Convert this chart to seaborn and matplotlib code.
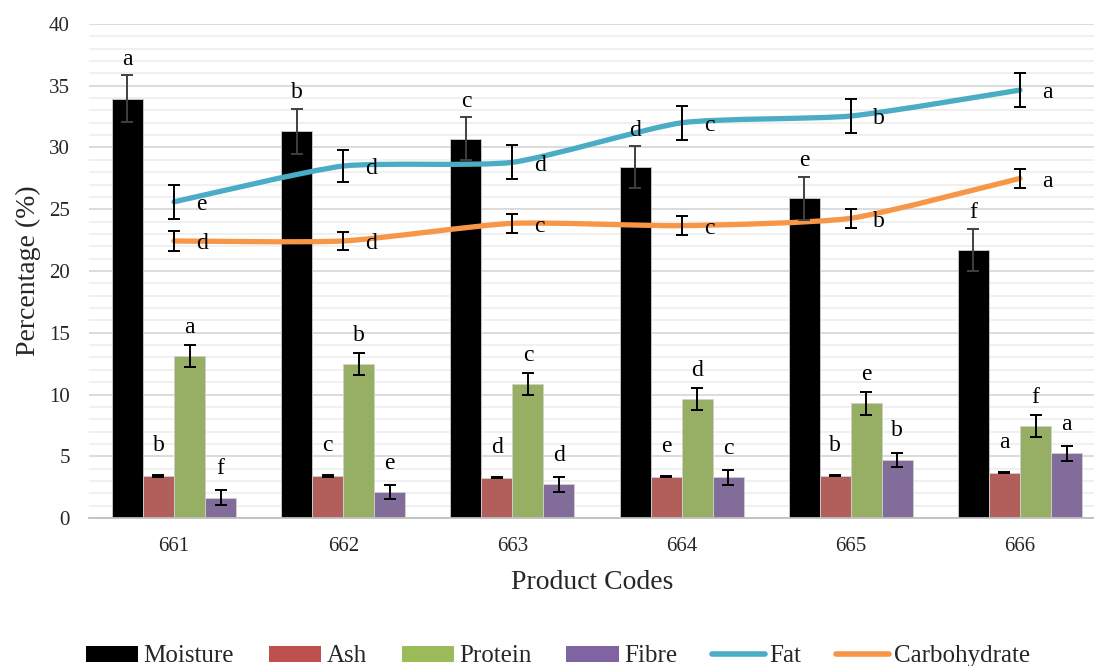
import numpy as np
import pandas as pd
import matplotlib
matplotlib.use("Agg")
import matplotlib.pyplot as plt
from matplotlib.path import Path
from matplotlib.patches import PathPatch, Patch
from matplotlib.lines import Line2D
from matplotlib.ticker import MultipleLocator
import seaborn as sns

# ---- data -------------------------------------------------------------
codes = ["661", "662", "663", "664", "665", "666"]

moisture = [33.95, 31.3, 30.7, 28.4, 25.9, 21.7]
moisture_err = [1.9, 1.85, 1.75, 1.7, 1.75, 1.7]
moisture_sig = ["a", "b", "c", "d", "e", "f"]

ash = [3.40, 3.40, 3.26, 3.34, 3.43, 3.67]
ash_err = [0.05, 0.05, 0.05, 0.05, 0.05, 0.05]
ash_sig = ["b", "c", "d", "e", "b", "a"]

protein = [13.1, 12.47, 10.82, 9.63, 9.28, 7.45]
protein_err = [0.9, 0.9, 0.9, 0.9, 0.9, 0.87]
protein_sig = ["a", "b", "c", "d", "e", "f"]

fibre = [1.65, 2.1, 2.73, 3.3, 4.7, 5.24]
fibre_err = [0.6, 0.6, 0.6, 0.6, 0.6, 0.6]
fibre_sig = ["f", "e", "d", "c", "b", "a"]

fat = [25.6, 28.5, 28.8, 32.0, 32.55, 34.65]
fat_err = [1.35, 1.3, 1.37, 1.38, 1.35, 1.35]
fat_sig = ["e", "d", "d", "c", "b", "a"]

carb = [22.43, 22.43, 23.86, 23.67, 24.27, 27.5]
carb_err = [0.78, 0.75, 0.77, 0.75, 0.75, 0.78]
carb_sig = ["d", "d", "c", "c", "b", "a"]

bar_names = ["Moisture", "Ash", "Protein", "Fibre"]
bar_colors = ["#000000", "#C0504D", "#9BBB59", "#8064A2"]
line_names = ["Fat", "Carbohydrate"]
line_colors = ["#4BACC6", "#F79646"]

bar_values = [moisture, ash, protein, fibre]
bar_errors = [moisture_err, ash_err, protein_err, fibre_err]
bar_sigs = [moisture_sig, ash_sig, protein_sig, fibre_sig]
line_values = [fat, carb]
line_errors = [fat_err, carb_err]
line_sigs = [fat_sig, carb_sig]

# ---- style ------------------------------------------------------------
sns.set_style("white")
plt.rcParams["font.family"] = ["Liberation Serif", "DejaVu Serif"]

fig = plt.figure(figsize=(10.94, 6.66), dpi=100)
ax = fig.add_axes([89.4 / 1094, (666 - 518) / 666, (1094 - 89.4) / 1094, (518 - 24) / 666])

df = pd.DataFrame({
    "code": np.repeat(codes, len(bar_names)),
    "component": bar_names * len(codes),
    "value": [bar_values[j][i] for i in range(len(codes)) for j in range(len(bar_names))],
})

group_width = 0.733
sns.barplot(data=df, x="code", y="value", hue="component", order=codes,
            hue_order=bar_names, palette=bar_colors, width=group_width,
            gap=0, errorbar=None, edgecolor="#D0D0D0", linewidth=0.6,
            legend=False, ax=ax, zorder=2)

n = len(bar_names)
bw = group_width / n
xs = np.arange(len(codes))

# error bars and significance letters on the bars
letter_gap = [4, 14, 5, 8]
for j in range(n):
    xpos = xs + (j - (n - 1) / 2) * bw
    ecol = "#404040" if j == 0 else "black"
    ax.errorbar(xpos, bar_values[j], yerr=bar_errors[j], fmt="none",
                ecolor=ecol, elinewidth=1.4, capsize=4.3, capthick=1.4, zorder=4)
    for x, v, e, s in zip(xpos, bar_values[j], bar_errors[j], bar_sigs[j]):
        ax.annotate(s, (x, v + e), xytext=(0, letter_gap[j]), textcoords="offset points",
                    ha="center", va="bottom", fontsize=17, color="black", zorder=5)


def smooth_path(x, y, k_t=10.0):
    """Cubic Bezier path through the points with gentle rounded joins."""
    px = np.concatenate([[x[0]], x, [x[-1]]])
    py = np.concatenate([[y[0]], y, [y[-1]]])
    verts = [(x[0], y[0])]
    codes_ = [Path.MOVETO]
    for k in range(1, len(px) - 2):
        c1 = (px[k] + (px[k + 1] - px[k - 1]) / k_t, py[k] + (py[k + 1] - py[k - 1]) / k_t)
        c2 = (px[k + 1] - (px[k + 2] - px[k]) / k_t, py[k + 1] - (py[k + 2] - py[k]) / k_t)
        verts += [c1, c2, (px[k + 1], py[k + 1])]
        codes_ += [Path.CURVE4] * 3
    return Path(verts, codes_)


for vals, errs, sigs, col in zip(line_values, line_errors, line_sigs, line_colors):
    ax.add_patch(PathPatch(smooth_path(xs.astype(float), np.array(vals, float)),
                           facecolor="none", edgecolor=col, lw=3.8,
                           capstyle="round", joinstyle="round", zorder=3))
    ax.errorbar(xs, vals, yerr=errs, fmt="none", ecolor="black",
                elinewidth=1.4, capsize=4.3, capthick=1.4, zorder=4)
    for x, v, s in zip(xs, vals, sigs):
        ax.annotate(s, (x, v), xytext=(16, -2), textcoords="offset points",
                    ha="left", va="center", fontsize=17, color="black", zorder=5)

# ---- axes -------------------------------------------------------------
ax.set_xlim(-0.5, 5.5 - 10.6 / 169.2)
ax.set_ylim(0, 40)
ax.yaxis.set_major_locator(MultipleLocator(5))
ax.yaxis.set_minor_locator(MultipleLocator(1))
ax.grid(which="major", axis="y", color="#D9D9D9", lw=1.3, zorder=0)
ax.grid(which="minor", axis="y", color="#EFEFEF", lw=1.3, zorder=0)
ax.grid(False, axis="x")
ax.set_axisbelow(True)
for side in ["left", "right", "top"]:
    ax.spines[side].set_visible(False)
ax.spines["bottom"].set_color("#BFBFBF")
ax.spines["bottom"].set_linewidth(1.3)
ax.tick_params(axis="both", which="both", length=0)
ax.tick_params(axis="y", pad=14, labelsize=15)
ax.tick_params(axis="x", pad=14, labelsize=15)
ax.set_xlabel("Product Codes", fontsize=20, labelpad=10)
ax.set_ylabel("Percentage (%)", fontsize=20, labelpad=6)

handles = [Patch(facecolor=c, edgecolor="none") for c in bar_colors]
handles += [Line2D([0], [0], color=c, lw=4, solid_capstyle="round") for c in line_colors]
fig.legend(handles, bar_names + line_names, loc="lower center", ncol=6,
           bbox_to_anchor=(0.51, -0.036), frameon=False, fontsize=18,
           handlelength=2.1, handleheight=0.6, handletextpad=0.2, columnspacing=1.4)

fig.savefig("out.png", dpi=100)
